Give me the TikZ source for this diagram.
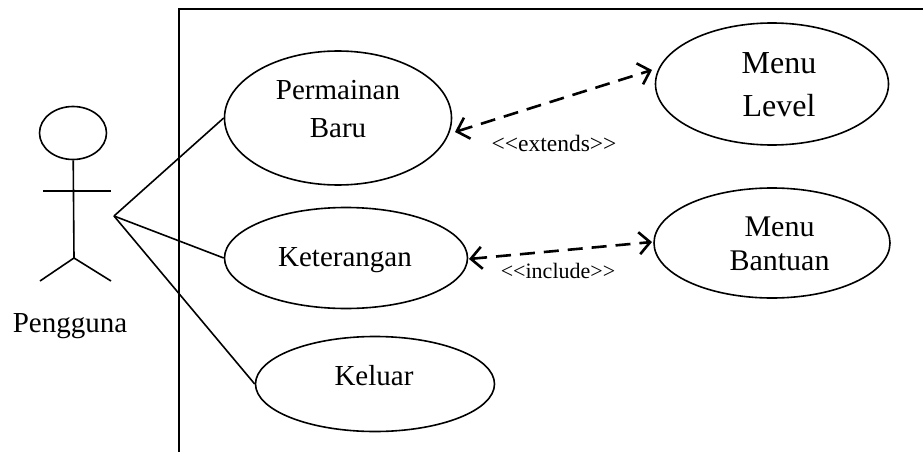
\documentclass[tikz,border=0pt]{standalone}
\usepackage{fontspec}
\setmainfont{Liberation Serif}
\usetikzlibrary{shapes.geometric,arrows.meta}

\tikzset{
    usecase/.style={draw, ellipse, line width=1.6pt, inner sep=0pt},
    casetext/.style={align=center, font=\fontsize{29}{38}\selectfont},
    actorline/.style={line width=1.6pt},
    relation/.style={{Straight Barb[length=11pt,width=22pt]}-{Straight Barb[length=11pt,width=22pt]}, line width=2.6pt, dash pattern=on 15pt off 9pt}
}

\begin{document}
\begin{tikzpicture}[x=1pt, y=-1pt]
    \useasboundingbox (0, 0) rectangle (923, 452);

    \node[usecase, minimum width=227pt, minimum height=134pt] (baru) at (338, 118) {};
    \node[usecase, minimum width=243pt, minimum height=101pt] (keterangan) at (346, 258) {};
    \node[usecase, minimum width=239pt, minimum height=95pt] (keluar) at (375, 384) {};
    \node[usecase, minimum width=233pt, minimum height=122pt] (level) at (772, 84) {};
    \node[usecase, minimum width=236pt, minimum height=110pt] (bantuan) at (772, 243) {};

    \node[casetext] (barutext) at (338, 109.5) {Permainan\\Baru};
    \node[casetext] (keterangantext) at (345, 260) {Keterangan};
    \node[casetext] (keluartext) at (374, 376) {Keluar};
    \node[casetext, font=\fontsize{32}{43}\selectfont] (leveltext) at (779, 84.5) {Menu\\Level};
    \node[casetext, font=\fontsize{30}{34}\selectfont] (bantuantext) at (779.5, 244) {Menu\\Bantuan};

    \coordinate (frametop) at (179, 9);
    \coordinate (frameright) at (923, 9);
    \coordinate (framebottom) at (179, 452);
    \draw[actorline] (frameright) -- (frametop) -- (framebottom);

    % actor
    \node[draw, ellipse, line width=1.6pt, minimum width=67pt, minimum height=53pt, inner sep=0pt] (head) at (73, 133) {};
    \coordinate (hip) at (74, 258);
    \coordinate (armleft) at (43, 191);
    \coordinate (armright) at (111, 191);
    \coordinate (footleft) at (40, 281);
    \coordinate (footright) at (111, 281);
    \coordinate (hub) at (114, 216);
    \draw[actorline] (head) -- (hip);
    \draw[actorline] (armleft) -- (armright);
    \draw[actorline] (footleft) -- (hip) -- (footright);
    \node[font=\fontsize{29}{33}\selectfont] (pengguna) at (70, 326) {Pengguna};

    \draw[actorline] (hub) -- (baru.west);
    \draw[actorline] (hub) -- (keterangan.west);
    \draw[actorline] (hub) -- (keluar.west);

    \coordinate (extendsleft) at (455, 132);
    \coordinate (extendsright) at (652, 70);
    \coordinate (includeleft) at (469, 259);
    \coordinate (includeright) at (652, 242);
    \draw[relation] (extendsleft) -- (extendsright);
    \draw[relation] (includeleft) -- (includeright);
    \node[font=\fontsize{23.5}{28}\selectfont] (extends) at (554, 143) {<{}<extends>{}>};
    \node[font=\fontsize{22}{26}\selectfont] (include) at (558, 271) {<{}<include>{}>};
\end{tikzpicture}
\end{document}
